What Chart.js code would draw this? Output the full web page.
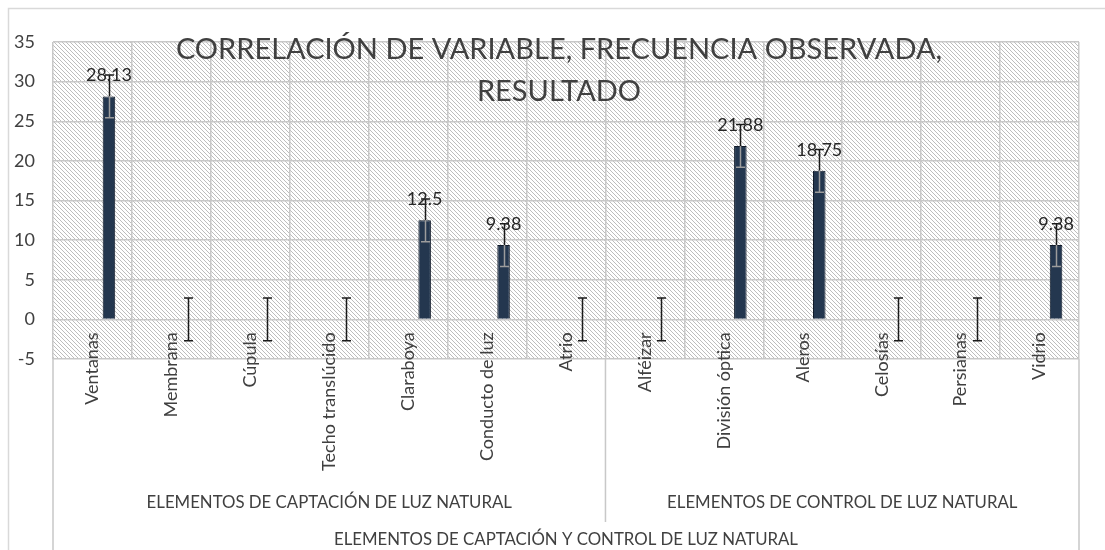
<!DOCTYPE html>
<html lang="es">
<head>
<meta charset="utf-8">
<title>Correlación de variable, frecuencia observada, resultado</title>
<script src="https://cdn.jsdelivr.net/npm/chart.js@4.4.1/dist/chart.umd.min.js"></script>
<style>
  html, body { margin: 0; padding: 0; background: #fff; }
  #wrap { width: 1105px; height: 550px; }
</style>
</head>
<body>
<div id="wrap"><canvas id="chart" width="1105" height="550"></canvas></div>
<script>
// data
const categories = ['Ventanas', 'Membrana', 'Cúpula', 'Techo translúcido', 'Claraboya', 'Conducto de luz', 'Atrio',
  'Alféizar', 'División óptica', 'Aleros', 'Celosías', 'Persianas', 'Vidrio'];
const resultado = [28.13, 0, 0, 0, 12.5, 9.38, 0, 0, 21.88, 18.75, 0, 0, 9.38];
// empty first series (Excel leaves its slot, so the bars sit right of centre)
const frecuencia = [null, null, null, null, null, null, null, null, null, null, null, null, null];
const errorAmount = 2.7;
const groupLabels = ['ELEMENTOS DE CAPTACIÓN DE LUZ NATURAL', 'ELEMENTOS DE CONTROL DE LUZ NATURAL'];
const groupSizes = [7, 6];
const outerLabel = 'ELEMENTOS DE CAPTACIÓN Y CONTROL DE LUZ NATURAL';
const titleLines = ['CORRELACIÓN DE VARIABLE, FRECUENCIA OBSERVADA,', 'RESULTADO'];
const yMin = -5, yMax = 35, yStep = 5;

const FONT = 'Lato';
const TEXT = '#404040';
const GRID = '#c8c8c8';

// white background, outer chart border and hatched plot area
const backgroundPlugin = {
  id: 'background',
  beforeDraw(chart) {
    const { ctx, chartArea: a } = chart;
    ctx.save();
    ctx.fillStyle = '#fff';
    ctx.fillRect(0, 0, chart.width, chart.height);
    ctx.strokeStyle = '#d9d9d9';
    ctx.lineWidth = 1.5;
    ctx.strokeRect(8.5, 8.5, chart.width + 20, chart.height + 20);

    const tile = document.createElement('canvas');
    tile.width = 4; tile.height = 4;
    const g = tile.getContext('2d');
    g.fillStyle = '#fff';
    g.fillRect(0, 0, 4, 4);
    g.strokeStyle = '#bdbdbd';
    g.lineWidth = 1;
    g.beginPath();
    g.moveTo(-1, -1); g.lineTo(5, 5);
    g.moveTo(-1, 3); g.lineTo(1, 5);
    g.moveTo(3, -1); g.lineTo(5, 1);
    g.stroke();
    ctx.fillStyle = ctx.createPattern(tile, 'repeat');
    ctx.fillRect(a.left, a.top, a.right - a.left, a.bottom - a.top);
    ctx.restore();
  }
};

// error bars and value labels on the visible series
const errorBarPlugin = {
  id: 'errorBars',
  afterDatasetsDraw(chart) {
    const { ctx } = chart;
    const y = chart.scales.y;
    const meta = chart.getDatasetMeta(1);
    ctx.save();
    ctx.lineWidth = 1.5;
    meta.data.forEach((bar, i) => {
      const v = resultado[i];
      const x = Math.round(bar.x) + 0.5;
      const yTop = y.getPixelForValue(v + errorAmount);
      const yMid = y.getPixelForValue(v);
      const yBot = y.getPixelForValue(v - errorAmount);
      ctx.strokeStyle = '#1a1a1a';
      ctx.beginPath();
      ctx.moveTo(x, yTop); ctx.lineTo(x, yMid);
      ctx.moveTo(x - 4.5, yTop); ctx.lineTo(x + 4.5, yTop);
      ctx.stroke();
      ctx.strokeStyle = v > 0 ? '#9c9c9c' : '#1a1a1a';
      ctx.beginPath();
      ctx.moveTo(x, yMid); ctx.lineTo(x, yBot);
      ctx.moveTo(x - 4.5, yBot); ctx.lineTo(x + 4.5, yBot);
      ctx.stroke();
    });

    ctx.fillStyle = '#262626';
    ctx.font = '18px ' + FONT;
    ctx.textAlign = 'center';
    ctx.textBaseline = 'middle';
    meta.data.forEach((bar, i) => {
      if (!resultado[i]) return;
      ctx.fillText(String(resultado[i]), bar.x, bar.y - 21);
    });
    ctx.restore();
  }
};

// multi-level category labels, separators and the title over the plot
const overlayPlugin = {
  id: 'overlay',
  afterDraw(chart) {
    const { ctx, chartArea: a } = chart;
    const x = chart.scales.x;
    const step = x.getPixelForValue(1) - x.getPixelForValue(0);
    ctx.save();
    ctx.strokeStyle = GRID;
    ctx.lineWidth = 1.5;
    ctx.beginPath();
    ctx.moveTo(a.left, a.bottom); ctx.lineTo(a.left, chart.height);
    ctx.moveTo(a.right, a.bottom); ctx.lineTo(a.right, chart.height);
    let start = 0;
    const spans = [];
    groupSizes.forEach((n, gi) => {
      const left = x.getPixelForValue(start) - step / 2;
      const right = x.getPixelForValue(start + n - 1) + step / 2;
      spans.push([left, right]);
      if (gi > 0) { ctx.moveTo(left, a.bottom); ctx.lineTo(left, 522); }
      start += n;
    });
    ctx.stroke();

    ctx.fillStyle = TEXT;
    ctx.font = '16.8px ' + FONT;
    ctx.textAlign = 'center';
    ctx.textBaseline = 'middle';
    spans.forEach(([l, r], gi) => ctx.fillText(groupLabels[gi], (l + r) / 2, 503));
    ctx.fillText(outerLabel, (a.left + a.right) / 2, 540);

    ctx.font = '29px ' + FONT;
    ctx.fillText(titleLines[0], 559, 50);
    ctx.fillText(titleLines[1], 559, 92);
    ctx.restore();
  }
};

new Chart(document.getElementById('chart'), {
  type: 'bar',
  data: {
    labels: categories,
    datasets: [
      { label: 'Frecuencia observada', data: frecuencia, backgroundColor: 'transparent' },
      {
        label: 'Resultado',
        data: resultado,
        backgroundColor: '#24374f',
        borderColor: '#111b2a',
        borderWidth: c => (c.raw ? 1 : 0)
      }
    ]
  },
  options: {
    responsive: false,
    animation: false,
    categoryPercentage: 0.836,
    barPercentage: 0.38,
    layout: { padding: { left: 8, top: 42, right: 26, bottom: 191 } },
    plugins: { legend: { display: false }, tooltip: { enabled: false }, title: { display: false } },
    scales: {
      x: {
        position: { y: 0 },
        grid: { color: GRID, lineWidth: 1.5, offset: true, drawTicks: false },
        border: { display: false },
        ticks: {
          autoSkip: false, minRotation: 90, maxRotation: 90, padding: 13,
          color: TEXT, font: { family: FONT, size: 18 }
        }
      },
      y: {
        min: yMin, max: yMax,
        afterFit: s => { s.width = 45; },
        grid: { color: GRID, lineWidth: 1.5, drawTicks: false },
        border: { display: false },
        ticks: { stepSize: yStep, padding: 18, color: TEXT, font: { family: FONT, size: 18 } }
      }
    }
  },
  plugins: [backgroundPlugin, errorBarPlugin, overlayPlugin]
});
</script>
</body>
</html>
